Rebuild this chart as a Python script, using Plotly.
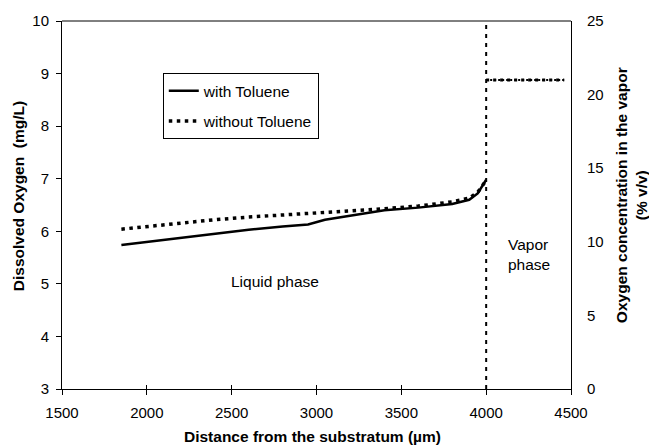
import plotly.graph_objects as go

# Liquid phase profiles (mg/L) vs distance from substratum (µm)
dist_with = [1850, 2000, 2200, 2400, 2600, 2800, 2950, 3050, 3200, 3400, 3600, 3800, 3900, 3950, 4000]
do_with = [5.74, 5.80, 5.88, 5.96, 6.03, 6.09, 6.13, 6.22, 6.30, 6.40, 6.45, 6.52, 6.60, 6.72, 6.98]

dist_without = [1850, 2000, 2200, 2400, 2600, 2800, 3000, 3200, 3400, 3600, 3800, 3900, 3950, 4000]
do_without = [6.04, 6.09, 6.16, 6.22, 6.27, 6.31, 6.35, 6.38, 6.43, 6.48, 6.56, 6.63, 6.74, 6.97]

# Vapor phase oxygen concentration (% v/v)
dist_vapor = [4000, 4460]
o2_vapor_with = [21.0, 21.0]
o2_vapor_without = [21.0, 21.0]

# Interface position
interface_x = [4000, 4000]
interface_y = [3, 10]

x_ticks = [1500, 2000, 2500, 3000, 3500, 4000, 4500]
y_ticks = [3, 4, 5, 6, 7, 8, 9, 10]
y2_ticks = [0, 5, 10, 15, 20, 25]

FONT = "Liberation Sans, Arial, sans-serif"
DOT = "3.5px,4.5px"
TS = 15
TITLE = 15.5

fig = go.Figure()
fig.add_trace(go.Scatter(x=dist_with, y=do_with, mode="lines", name="with Toluene",
                         line=dict(color="black", width=2.5), legendgroup="a"))
fig.add_trace(go.Scatter(x=dist_without, y=do_without, mode="lines", name="without Toluene",
                         line=dict(color="black", width=3.5, dash=DOT), legendgroup="b"))
fig.add_trace(go.Scatter(x=dist_vapor, y=o2_vapor_with, mode="lines", yaxis="y2", showlegend=False,
                         line=dict(color="black", width=2, dash="2px,2px")))
fig.add_trace(go.Scatter(x=dist_vapor, y=o2_vapor_without, mode="lines", yaxis="y2", showlegend=False,
                         line=dict(color="black", width=3, dash="3px,4px")))
fig.add_trace(go.Scatter(x=interface_x, y=interface_y, mode="lines", showlegend=False,
                         line=dict(color="black", width=2, dash="4px,5px")))
# invisible helper trace to activate the inner tick axis
fig.add_trace(go.Scatter(x=[x_ticks[0]], y=[y_ticks[0]], xaxis="x2", mode="markers",
                         marker=dict(opacity=0), showlegend=False, hoverinfo="skip"))

fig.update_layout(
    width=649, height=445,
    margin=dict(l=62, r=78, t=21, b=56),
    paper_bgcolor="white", plot_bgcolor="white",
    font=dict(family=FONT, size=TS, color="black"),
    showlegend=True,
    legend=dict(x=0.198, y=0.858, xanchor="left", yanchor="top",
                bordercolor="black", borderwidth=1, bgcolor="white",
                font=dict(size=15.5), tracegroupgap=7, traceorder="grouped",
                itemwidth=30),
    xaxis=dict(range=[1500, 4500], tickvals=x_ticks, ticks="outside", ticklen=5,
               tickcolor="black", showline=True, linecolor="black", linewidth=1,
               mirror=False, showgrid=False, zeroline=False,
               tickfont=dict(size=TS), ticklabelstandoff=5),
    xaxis2=dict(range=[1500, 4500], tickvals=x_ticks, ticks="inside", ticklen=4,
                tickcolor="black", showline=False, showgrid=False, zeroline=False,
                showticklabels=False, overlaying="x", side="bottom", anchor="y"),
    yaxis=dict(range=[3, 10], tickvals=y_ticks, ticks="outside", ticklen=5,
               tickcolor="black", showline=True, linecolor="black", linewidth=1,
               showgrid=False, zeroline=False, tickfont=dict(size=TS), ticklabelstandoff=4),
    yaxis2=dict(range=[0, 25], tickvals=y2_ticks, overlaying="y", side="right",
                ticks="", showline=True, linecolor="black", linewidth=1,
                showgrid=False, zeroline=False, tickfont=dict(size=TS), ticklabelstandoff=12),
    shapes=[dict(type="line", xref="paper", yref="paper", x0=0, x1=1, y0=1, y1=1,
                 line=dict(color="black", width=1))],
    annotations=[
        dict(text="<b>Distance from the substratum (µm)</b>", xref="paper", yref="paper",
             x=0.493, y=-0.13, xanchor="center", yanchor="middle", showarrow=False,
             font=dict(size=TITLE)),
        dict(text="<b>Dissolved Oxygen  (mg/L)</b>", xref="paper", yref="paper",
             x=-0.0864, y=0.524, xanchor="center", yanchor="middle", textangle=-90,
             showarrow=False, font=dict(size=TITLE)),
        dict(text="<b>Oxygen concentration in the vapor<br>(% v/v)</b>", xref="paper", yref="paper",
             x=1.118, y=0.527, xanchor="center", yanchor="middle", textangle=-90,
             showarrow=False, font=dict(size=TITLE)),
        dict(text="Liquid phase", x=2755, y=5.05, xref="x", yref="y", showarrow=False,
             font=dict(size=15.5)),
        dict(text="Vapor<br>phase", x=4118, y=5.56, xref="x", yref="y", showarrow=False,
             xanchor="left", align="left", font=dict(size=15.5)),
    ],
)

fig.write_html("out.html")
